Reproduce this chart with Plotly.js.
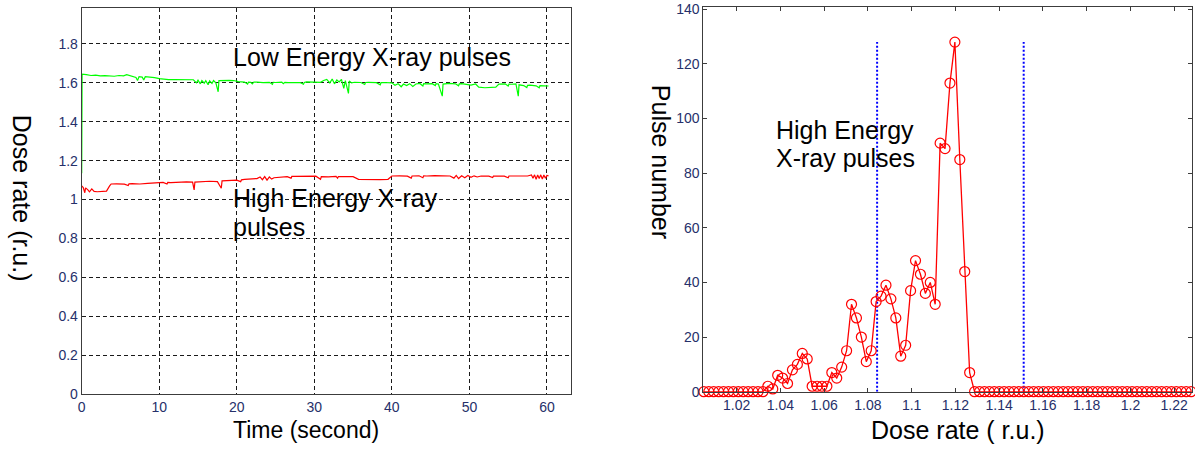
<!DOCTYPE html>
<html>
<head>
<meta charset="utf-8">
<script src="https://cdn.plot.ly/plotly-3.0.1.min.js"></script>
<style>html,body{margin:0;padding:0;background:#fff;}#chart{width:1195px;height:449px;}</style>
</head>
<body>
<div id="chart"></div>
<script>
// ---------- Left panel: dose rate vs time ----------
const lowTime = [
0.00,0.05,0.6,1.2,1.8,2.4,3.0,3.6,4.2,4.8,
5.4,5.8,6.2,6.6,7.0,7.2,7.4,7.8,8.0,8.2,
8.8,9.4,10.0,10.6,11.2,12.0,12.8,13.6,14.4,14.8,
15.0,15.3,15.5,15.8,16.0,16.3,16.5,16.8,17.0,17.3,
17.6,17.7,18.3,19.0,19.6,20.2,21.0,21.4,21.5,21.8,
22.0,22.2,22.6,23.4,24.2,24.6,24.7,25.0,25.8,26.0,
26.2,26.6,27.4,28.2,28.6,28.7,29.0,29.6,30.2,30.8,
31.2,31.6,32.0,32.3,32.6,32.9,33.2,33.5,33.8,34.0,
34.4,34.5,34.8,35.2,36.0,36.5,36.6,37.0,38.0,38.5,
38.6,39.0,40.0,40.4,40.8,41.2,41.5,41.9,42.3,42.7,
43.1,43.6,44.0,44.1,44.4,45.2,45.6,45.7,46.0,46.5,
46.6,47.4,48.2,48.6,48.7,49.0,49.6,50.2,50.8,51.2,
52.0,52.8,53.4,53.8,54.6,55.0,55.1,55.4,56.0,56.3,
56.4,57.0,57.4,57.5,57.8,58.6,59.0,59.1,59.4,60.2];
const lowDose = [
1.135,1.645,1.642,1.638,1.640,1.636,1.637,1.635,1.634,1.638,
1.636,1.642,1.636,1.634,1.628,1.612,1.632,1.630,1.615,1.632,
1.630,1.627,1.622,1.618,1.617,1.617,1.616,1.617,1.616,1.600,
1.614,1.595,1.612,1.598,1.611,1.590,1.610,1.597,1.612,1.600,
1.554,1.612,1.614,1.613,1.612,1.606,1.604,1.594,1.604,1.603,
1.595,1.604,1.604,1.601,1.603,1.592,1.603,1.602,1.604,1.596,
1.603,1.601,1.602,1.601,1.593,1.602,1.605,1.604,1.606,1.603,
1.612,1.618,1.600,1.620,1.595,1.615,1.605,1.618,1.572,1.612,
1.546,1.610,1.600,1.603,1.602,1.592,1.602,1.603,1.601,1.590,
1.601,1.602,1.600,1.588,1.596,1.580,1.594,1.586,1.596,1.582,
1.594,1.597,1.584,1.596,1.595,1.596,1.586,1.596,1.594,1.532,
1.594,1.597,1.595,1.585,1.595,1.596,1.592,1.588,1.594,1.578,
1.575,1.576,1.578,1.594,1.595,1.584,1.594,1.593,1.595,1.532,
1.590,1.586,1.576,1.587,1.588,1.585,1.575,1.586,1.586,1.584];

const highTime = [
0.0,0.2,0.4,0.5,0.8,1.0,1.3,1.6,2.0,2.6,
3.2,3.6,3.8,4.5,5.5,6.0,6.1,6.5,7.5,8.5,
9.5,10.5,11.0,11.1,11.5,12.5,13.5,14.3,14.5,14.6,
15.5,16.5,17.5,18.0,18.1,19.0,20.0,20.5,20.6,21.0,
22.0,22.6,23.0,23.3,23.6,23.9,24.2,24.5,24.8,25.6,
26.5,27.0,27.1,27.5,28.5,29.5,30.2,30.8,30.9,31.8,
32.8,33.0,33.1,33.8,35.0,35.7,36.5,37.5,38.5,39.5,
40.0,41.0,42.0,42.5,42.6,43.5,44.0,44.1,44.5,45.5,
46.5,47.5,48.0,48.3,48.6,49.0,49.4,49.8,50.2,50.6,
51.0,51.5,52.5,53.0,53.1,53.5,54.5,55.0,55.1,55.5,
56.5,57.5,58.0,58.2,58.4,58.6,58.8,59.0,59.2,59.4,
59.6,59.8,60.0,60.2];
const highDose = [
1.070,1.062,1.035,1.060,1.050,1.040,1.055,1.042,1.040,1.041,
1.043,1.070,1.080,1.081,1.079,1.072,1.081,1.082,1.080,1.083,
1.085,1.088,1.080,1.088,1.087,1.090,1.091,1.090,1.050,1.090,
1.093,1.094,1.092,1.058,1.096,1.098,1.100,1.092,1.101,1.104,
1.106,1.108,1.116,1.102,1.118,1.100,1.116,1.105,1.112,1.116,
1.118,1.110,1.119,1.119,1.118,1.117,1.120,1.104,1.118,1.117,
1.119,1.110,1.118,1.118,1.118,1.104,1.103,1.104,1.102,1.104,
1.121,1.122,1.120,1.110,1.121,1.122,1.112,1.122,1.121,1.123,
1.122,1.121,1.110,1.124,1.108,1.122,1.112,1.124,1.114,1.122,
1.116,1.121,1.120,1.113,1.121,1.121,1.120,1.112,1.121,1.121,
1.122,1.121,1.126,1.110,1.127,1.104,1.126,1.108,1.127,1.106,
1.126,1.110,1.124,1.122];

const leftXTicks = [0,10,20,30,40,50,60];
const leftXTickText = ['0','10','20','30','40','50','60'];
const leftYTicks = [0,0.2,0.4,0.6,0.8,1,1.2,1.4,1.6,1.8];
const leftYTickText = ['0','0.2','0.4','0.6','0.8','1','1.2','1.4','1.6','1.8'];

// ---------- Right panel: histogram of high-energy pulses ----------
const binCenters = [1.00500,1.00725,1.00950,1.01175,1.01400,1.01625,1.01850,1.02075,1.02300,1.02525,
1.02750,1.02975,1.03200,1.03425,1.03650,1.03875,1.04100,1.04325,1.04550,1.04775,
1.05000,1.05225,1.05450,1.05675,1.05900,1.06125,1.06350,1.06575,1.06800,1.07025,
1.07250,1.07475,1.07700,1.07925,1.08150,1.08375,1.08600,1.08825,1.09050,1.09275,
1.09500,1.09725,1.09950,1.10175,1.10400,1.10625,1.10850,1.11075,1.11300,1.11525,
1.11750,1.11975,1.12200,1.12425,1.12650,1.12875,1.13100,1.13325,1.13550,1.13775,
1.14000,1.14225,1.14450,1.14675,1.14900,1.15125,1.15350,1.15575,1.15800,1.16025,
1.16250,1.16475,1.16700,1.16925,1.17150,1.17375,1.17600,1.17825,1.18050,1.18275,
1.18500,1.18725,1.18950,1.19175,1.19400,1.19625,1.19850,1.20075,1.20300,1.20525,
1.20750,1.20975,1.21200,1.21425,1.21650,1.21875,1.22100,1.22325,1.22550,1.22775];
const pulseCounts = [0,0,0,0,0,0,0,0,0,0,
0,0,0,2,1,6,5,3,8,10,
14,12,2,2,2,2,7,5,9,15,
32,27,20,11,15,33,35,39,34,27,
13,17,37,48,43,36,40,32,91,89,
113,128,85,44,7,0,0,0,0,0,
0,0,0,0,0,0,0,0,0,0,
0,0,0,0,0,0,0,0,0,0,
0,0,0,0,0,0,0,0,0,0,
0,0,0,0,0,0,0,0,0,0];
const thresholdLow = [1.0842, 1.0842];
const thresholdHigh = [1.1512, 1.1512];
const thresholdSpan = [0, 128];

const rightXTicks = [1.02,1.04,1.06,1.08,1.1,1.12,1.14,1.16,1.18,1.2,1.22];
const rightXTickText = ['1.02','1.04','1.06','1.08','1.1','1.12','1.14','1.16','1.18','1.2','1.22'];
const rightYTicks = [0,20,40,60,80,100,120,140];
const rightYTickText = ['0','20','40','60','80','100','120','140'];

// ---------- helpers (pixel -> paper) ----------
const W = 1195, H = 449;
const px = v => v / W;
const py = v => 1 - v / H;

const FONT = 'Liberation Sans, Arial, Helvetica, sans-serif';
const TICKCOL = '#26306a';

const traces = [
  {x: lowTime, y: lowDose, type: 'scatter', mode: 'lines', line: {color: '#00ff00', width: 1.2}, xaxis: 'x', yaxis: 'y'},
  {x: highTime, y: highDose, type: 'scatter', mode: 'lines', line: {color: '#ff0000', width: 1.2}, xaxis: 'x', yaxis: 'y'},
  {x: thresholdLow, y: thresholdSpan, type: 'scatter', mode: 'lines', line: {color: '#0000ff', width: 2, dash: '2px,2px'}, xaxis: 'x2', yaxis: 'y2'},
  {x: thresholdHigh, y: thresholdSpan, type: 'scatter', mode: 'lines', line: {color: '#0000ff', width: 2, dash: '2px,2px'}, xaxis: 'x2', yaxis: 'y2'},
  {x: binCenters, y: pulseCounts, type: 'scatter', mode: 'lines+markers', cliponaxis: false,
   line: {color: '#ff0000', width: 1.3},
   marker: {symbol: 'circle-open', size: 10, color: '#ff0000', line: {width: 1.2, color: '#ff0000'}},
   xaxis: 'x2', yaxis: 'y2'}
];

const axCommon = {showline: true, linecolor: '#3c3c3c', linewidth: 1, zeroline: false,
  tickfont: {family: FONT, size: 14, color: TICKCOL}, tickmode: 'array'};

const layout = {
  width: W, height: H,
  margin: {l: 0, r: 0, t: 0, b: 0},
  paper_bgcolor: '#ffffff', plot_bgcolor: '#ffffff',
  showlegend: false,
  font: {family: FONT, color: '#000'},
  xaxis: Object.assign({}, axCommon, {domain: [px(81.7), px(571)], range: [0, 63.1], anchor: 'y',
    tickvals: leftXTicks, ticktext: leftXTickText, ticks: '', mirror: true,
    showgrid: true, gridcolor: '#1a1a1a', gridwidth: 1, griddash: '4px,3px'}),
  yaxis: Object.assign({}, axCommon, {domain: [py(394), py(8)], range: [0, 1.985], anchor: 'x',
    tickvals: leftYTicks, ticktext: leftYTickText, ticks: '', mirror: true,
    showgrid: true, gridcolor: '#1a1a1a', gridwidth: 1, griddash: '4px,3px'}),
  xaxis2: Object.assign({}, axCommon, {domain: [px(703.3), px(1191.7)], range: [1.00475, 1.228], anchor: 'y2',
    tickvals: rightXTicks, ticktext: rightXTickText, ticks: 'inside', ticklen: 4, tickcolor: '#3c3c3c',
    mirror: 'ticks', showgrid: false}),
  yaxis2: Object.assign({}, axCommon, {domain: [py(391.7), py(6.6)], range: [0, 141], anchor: 'x2',
    tickvals: rightYTicks, ticktext: rightYTickText, ticks: 'inside', ticklen: 4, tickcolor: '#3c3c3c',
    mirror: 'ticks', showgrid: false}),
  annotations: [
    {text: 'Low Energy X-ray pulses', xref: 'paper', yref: 'paper', x: px(231), y: py(56.7), xanchor: 'left', yanchor: 'middle', showarrow: false, font: {family: FONT, size: 25, color: '#000'}},
    {text: 'High Energy X-ray', xref: 'paper', yref: 'paper', x: px(231), y: py(198.3), xanchor: 'left', yanchor: 'middle', showarrow: false, font: {family: FONT, size: 25, color: '#000'}},
    {text: 'pulses', xref: 'paper', yref: 'paper', x: px(231), y: py(226.5), xanchor: 'left', yanchor: 'middle', showarrow: false, font: {family: FONT, size: 25, color: '#000'}},
    {text: 'High Energy', xref: 'paper', yref: 'paper', x: px(774), y: py(129.7), xanchor: 'left', yanchor: 'middle', showarrow: false, font: {family: FONT, size: 25, color: '#000'}},
    {text: 'X-ray pulses', xref: 'paper', yref: 'paper', x: px(774), y: py(158.5), xanchor: 'left', yanchor: 'middle', showarrow: false, font: {family: FONT, size: 25, color: '#000'}},
    {text: 'Dose rate (r.u.)', xref: 'paper', yref: 'paper', x: px(21.7), y: py(198.5), xanchor: 'center', yanchor: 'middle', textangle: 90, showarrow: false, font: {family: FONT, size: 25, color: '#000'}},
    {text: 'Pulse number', xref: 'paper', yref: 'paper', x: px(661.7), y: py(161.5), xanchor: 'center', yanchor: 'middle', textangle: 90, showarrow: false, font: {family: FONT, size: 25, color: '#000'}},
    {text: 'Time (second)', xref: 'paper', yref: 'paper', x: px(305.8), y: py(430), xanchor: 'center', yanchor: 'middle', showarrow: false, font: {family: FONT, size: 23, color: '#000'}},
    {text: 'Dose rate ( r.u.)', xref: 'paper', yref: 'paper', x: px(957.5), y: py(430), xanchor: 'center', yanchor: 'middle', showarrow: false, font: {family: FONT, size: 25, color: '#000'}}
  ]
};

Plotly.newPlot('chart', traces, layout, {staticPlot: true, displayModeBar: false});
</script>
</body>
</html>
